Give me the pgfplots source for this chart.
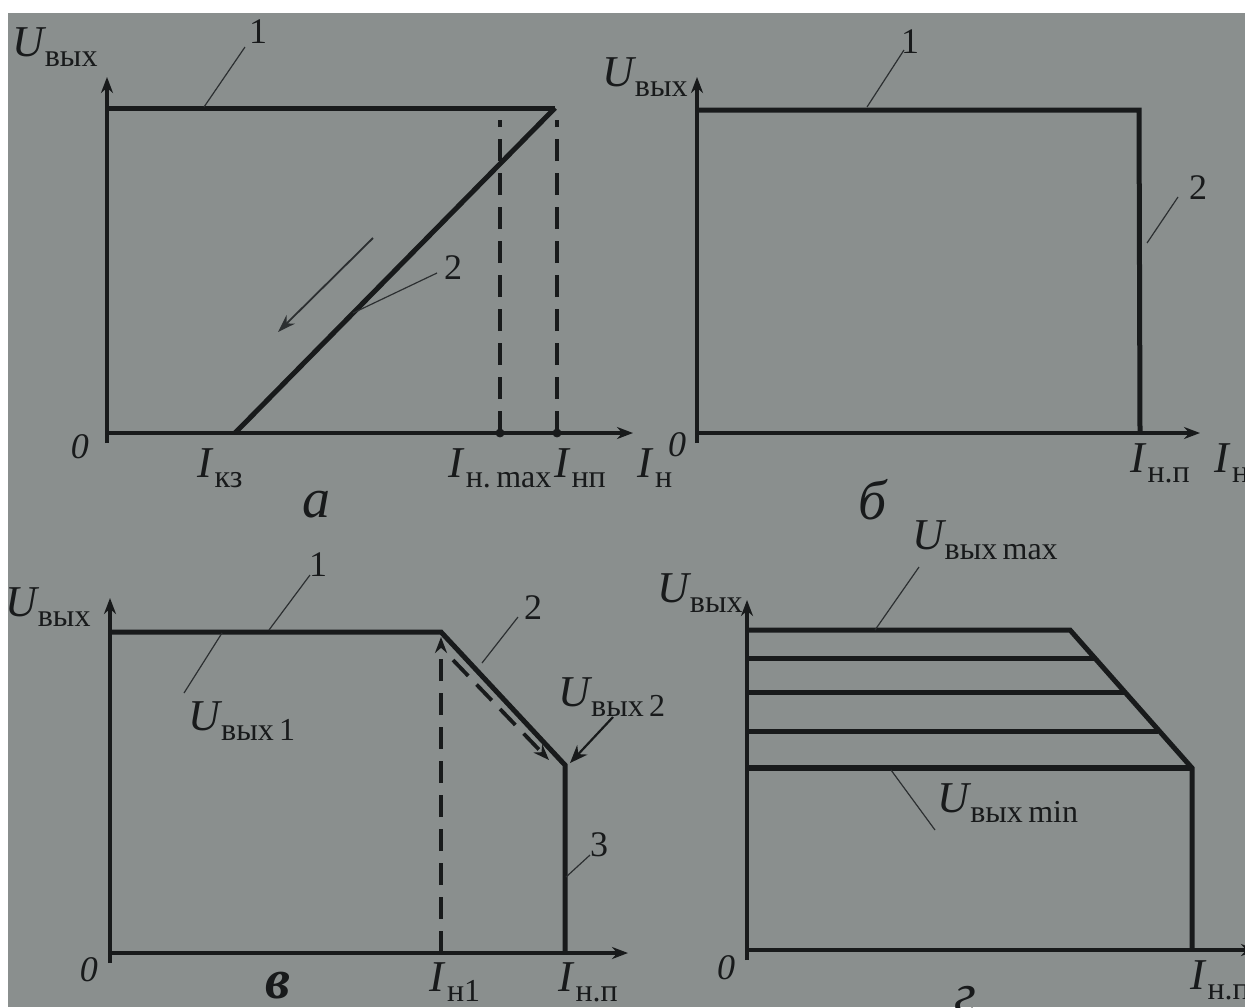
\documentclass[border=0pt]{standalone}
\usepackage{fontspec}
\setmainfont{Liberation Serif}
\usepackage{pgfplots}
\pgfplotsset{compat=1.18}
\usetikzlibrary{arrows.meta}

\definecolor{paper}{RGB}{138,143,142}
\definecolor{ink}{RGB}{24,26,27}
\definecolor{lead}{RGB}{44,47,49}

% subscript set in upright Cyrillic, slightly lowered
\newcommand\sub[1]{\raisebox{-0.22em}{\fontsize{16}{17}\selectfont #1}}
\newcommand\Uv[1]{\textit{U}\kern-0.04em\sub{#1}}
\newcommand\Iv[1]{\textit{I}\kern0.02em\sub{#1}}

\pgfplotsset{
  panel/.style={
    axis lines=middle, x=0.5pt, y=0.5pt,
    xmin=0, ymin=-10, xtick=\empty, ytick=\empty,
    clip=false, anchor=south west,
    axis line style={ink, line width=1.6pt},
    every inner x axis line/.append style={-{Stealth[length=8pt,width=6pt]}},
    every inner y axis line/.append style={-{Stealth[length=8pt,width=6pt]}},
  },
  curve/.style={ink, line width=2.5pt, line join=miter, no marks},
  dash/.style={ink, line width=1.9pt, dash pattern=on 11pt off 6pt, no marks},
  leader/.style={lead, line width=0.6pt, no marks},
}
\tikzset{
  lab/.style={font=\fontsize{22}{24}\selectfont, text=ink, inner sep=0pt},
  num/.style={font=\fontsize{18}{20}\selectfont, text=ink, inner sep=0pt},
  let/.style={font=\fontsize{28}{30}\selectfont\itshape, text=ink, inner sep=0pt},
}

\begin{document}
\begin{tikzpicture}
\useasboundingbox (0,0) rectangle (622.5pt,-503.5pt);
\fill[white] (0,0) rectangle (622.5pt,-503.5pt);
\fill[paper] (4pt,-6.5pt) rectangle (622.5pt,-503.5pt);
\clip (0,0) rectangle (622.5pt,-503.5pt);

% ---------------- a ----------------
\begin{axis}[panel, at={(53.5pt,-221.5pt)}, xmax=526, ymax=356]
  \addplot[curve] coordinates {(0,325) (448,325)};
  \addplot[curve] coordinates {(128,0) (448,325)};
  \addplot[dash] coordinates {(393,0) (393,313)};
  \addplot[dash] coordinates {(450,0) (450,313)};
  \addplot[only marks, mark=*, mark size=2pt, ink] coordinates {(393,0) (450,0)};
  \addplot[lead, line width=0.9pt, no marks, -{Stealth[length=9pt,width=6pt]}]
    coordinates {(266,195) (171,101)};
  \addplot[leader] coordinates {(138,386) (97,326)};
  \addplot[leader] coordinates {(330,160) (246,120)};
  \node[num] at (151,401) {1};
  \node[num] at (346,165) {2};
  \node[lab] at (-52,386) {\Uv{вых}};
  \node[num, font=\fontsize{18}{20}\selectfont\itshape] at (-27,-14) {0};
  \node[lab] at (113,-35) {\Iv{кз}};
  \node[lab] at (393,-35) {\Iv{н.\,max}};
  \node[lab] at (473,-35) {\Iv{нп}};
  \node[lab] at (548,-35) {\Iv{н}};
  \node[let] at (209,-72) {а};
\end{axis}

% ---------------- б ----------------
\begin{axis}[panel, at={(348.5pt,-221.5pt)}, xmax=503, ymax=356]
  \addplot[curve] coordinates {(0,323) (442,323) (443,0)};
  \addplot[leader] coordinates {(207,383) (170,326)};
  \addplot[leader] coordinates {(481,236) (450,190)};
  \node[num] at (213,391) {1};
  \node[num] at (501,245) {2};
  \node[lab] at (-52,356) {\Uv{вых}};
  \node[num, font=\fontsize{18}{20}\selectfont\itshape] at (-20,-12) {0};
  \node[lab] at (463,-30) {\Iv{н.п}};
  \node[lab] at (535,-30) {\Iv{н}};
  \node[let] at (176,-67) {б};
\end{axis}

% ---------------- в ----------------
\begin{axis}[panel, at={(55pt,-481.5pt)}, xmax=518, ymax=355]
  \addplot[curve] coordinates {(0,321) (331,321) (455,188) (455,0)};
  \addplot[dash, -{Stealth[length=8pt,width=6pt]}] coordinates {(331,0) (331,316)};
  \addplot[dash, -{Stealth[length=8pt,width=6pt]}] coordinates {(343,293) (439,193)};
  \addplot[ink, line width=1.1pt, no marks, -{Stealth[length=9pt,width=7pt]}]
    coordinates {(503,236) (460,190)};
  \addplot[leader] coordinates {(200,378) (159,323)};
  \addplot[leader] coordinates {(112,320) (74,260)};
  \addplot[leader] coordinates {(408,336) (372,290)};
  \addplot[leader] coordinates {(480,98) (456,76)};
  \node[num] at (208,388) {1};
  \node[num] at (423,345) {2};
  \node[num] at (489,108) {3};
  \node[lab] at (-62,346) {\Uv{вых}};
  \node[lab] at (132,232) {\Uv{вых\,1}};
  \node[lab] at (502,256) {\Uv{вых\,2}};
  \node[num, font=\fontsize{18}{20}\selectfont\itshape] at (-21,-17) {0};
  \node[lab] at (345,-29) {\Iv{н1}};
  \node[lab] at (478,-29) {\Iv{н.п}};
  \node[let, font=\fontsize{28}{30}\selectfont\itshape\bfseries] at (168,-33) {в};
\end{axis}

% ---------------- г ----------------
\begin{axis}[panel, at={(373.5pt,-480pt)}, xmax=510, ymax=350]
  \addplot[curve] coordinates {(0,320) (323,320) (445,182) (445,0)};
  \addplot[curve] coordinates {(0,292) (347,292)};
  \addplot[curve] coordinates {(0,258) (377,258)};
  \addplot[curve] coordinates {(0,219) (411,219)};
  \addplot[curve, line width=2.9pt] coordinates {(0,182) (445,182)};
  \addplot[leader] coordinates {(172,383) (128,320)};
  \addplot[leader] coordinates {(144,180) (188,120)};
  \node[lab] at (-47,357) {\Uv{вых}};
  \node[lab] at (238,410) {\Uv{вых\,max}};
  \node[lab] at (261,147) {\Uv{вых\,min}};
  \node[num, font=\fontsize{18}{20}\selectfont\itshape] at (-21,-18) {0};
  \node[lab] at (473,-30) {\Iv{н.п}};
  \node[let] at (218,-50) {г};
\end{axis}
\end{tikzpicture}
\end{document}
